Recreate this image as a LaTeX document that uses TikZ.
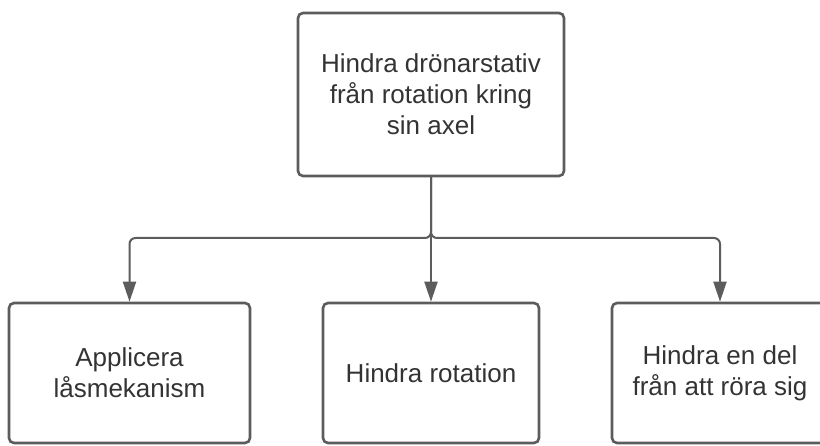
\documentclass[tikz,border=0pt]{standalone}
\usepackage{fontspec}
\setmainfont{Liberation Sans}
\usetikzlibrary{arrows.meta}
\definecolor{boxline}{HTML}{5C5C5C}
\definecolor{txt}{HTML}{333333}
\begin{document}
\begin{tikzpicture}[x=1pt,y=-1pt,
  box/.style={draw=boxline, line width=2.6pt, rounded corners=5pt, rectangle,
    inner sep=0pt, align=center, text=txt, font=\fontsize{26}{31}\selectfont,
    minimum height=140pt},
  conn/.style={draw=boxline, line width=2pt, rounded corners=6pt,
    -{Triangle[length=20pt,width=13pt]}}]
\useasboundingbox (0,0) rectangle (820,446);
\clip (0,0) rectangle (820,446);
\node[box, minimum width=266pt, minimum height=163pt] (top) at (431,94.5)
  {Hindra drönarstativ\\från rotation kring\\sin axel};
\node[box, minimum width=241pt] (left) at (129.5,373) {Applicera\\låsmekanism};
\node[box, minimum width=216pt] (mid) at (431,373) {Hindra rotation};
\node[box, minimum width=216pt] (right) at (720,373) {Hindra en del\\från att röra sig};
\coordinate (junc) at (431,238);
\draw[conn] (top.south) -- (junc) -| (left.north);
\draw[conn] (top.south) -- (junc) -| (right.north);
\draw[conn] (top.south) -- (mid.north);
\end{tikzpicture}
\end{document}
